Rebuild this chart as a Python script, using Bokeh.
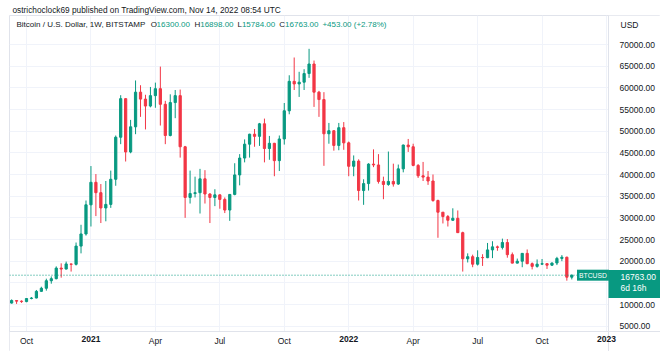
import pandas as pd
from bokeh.plotting import figure
from bokeh.models import (Range1d, FixedTicker, NumeralTickFormatter, CustomJSTickFormatter,
                          Label, ColumnDataSource, Span, DatetimeAxis, BoxAnnotation)
from bokeh.embed import file_html
from bokeh.resources import INLINE

# ---------------- data (weekly BTC/USD candles, Bitstamp) ----------------
opens = [10330, 10920, 10770, 10670, 11380, 11500, 13030, 13750, 15480, 15960,
         18400, 18180, 19360, 19270, 23480, 26280, 33000, 38200, 35800, 32280,
         33100, 38900, 48600, 57500, 45200, 51000, 59000, 57400, 55800, 58200,
         59800, 56200, 49000, 56600, 58200, 46400, 34700, 35600, 35800, 39000,
         35500, 34700, 35300, 34250, 31800, 35400, 39900, 43800, 47000, 49300,
         48800, 51700, 46000, 47200, 43200, 48200, 54700, 61500, 60900, 61300,
         63300, 65500, 59000, 57300, 49400, 50100, 46700, 50800, 47300, 41900,
         43100, 36300, 37900, 42400, 42200, 38400, 37700, 38400, 37800, 41300,
         46800, 46400, 42100, 39700, 39400, 38500, 34000, 31300, 30290, 29440,
         29900, 26580, 20550, 21030, 19300, 20850, 20800, 22600, 23300, 23170,
         24300, 21500, 19550, 19990, 21800, 19420, 18800, 19310, 19420, 19070,
         19570, 20630, 20910, 16300]
highs = [11180, 10990, 10950, 11490, 11730, 13350, 14100, 15960, 16480, 18800,
         19500, 19900, 19420, 24300, 28400, 34000, 41950, 40100, 37800, 38500,
         40900, 49000, 58300, 57600, 52600, 61700, 60600, 58400, 60200, 61200,
         64900, 57000, 58500, 59500, 59600, 46600, 40900, 39500, 41300, 41000,
         35700, 36600, 35400, 34700, 35500, 42600, 44700, 48100, 49400, 50500,
         51900, 52900, 48900, 47300, 49000, 56500, 62900, 67000, 63700, 64300,
         69000, 66300, 59300, 59000, 51900, 50200, 51900, 52100, 47600, 44400,
         43500, 38900, 42600, 45800, 44700, 39500, 45300, 42500, 42300, 46900,
         48200, 47100, 42400, 42900, 40800, 40000, 34200, 31300, 30650, 32200,
         31700, 26800, 21800, 21500, 22500, 21600, 24200, 24600, 23600, 25200,
         25100, 22000, 20600, 21850, 22700, 19700, 20400, 20500, 19500, 19700,
         21000, 21400, 21050, 16898]
lows = [10210, 10140, 10370, 10530, 11200, 11420, 12960, 13200, 14800, 15800,
        16200, 18100, 17600, 19000, 21800, 25900, 28000, 30400, 28800, 29200,
        32300, 37400, 47000, 43000, 44900, 49300, 53300, 50400, 55500, 55400,
        51300, 47000, 48800, 53000, 43900, 30000, 33300, 34700, 31000, 33300,
        28800, 32700, 32100, 31100, 29300, 35200, 37500, 42800, 43900, 46400,
        46600, 42800, 43400, 39600, 40800, 46900, 53900, 59500, 57900, 59500,
        62300, 55600, 53300, 42000, 47100, 45500, 45600, 45700, 39600, 39600,
        34000, 33000, 36300, 41700, 37900, 34300, 37400, 37200, 37600, 40500,
        45200, 41900, 39200, 38500, 37600, 33700, 25400, 28700, 28000, 29300,
        26500, 17600, 19700, 18600, 19000, 18900, 20700, 20700, 22400, 22700,
        20800, 19500, 19500, 18600, 19300, 18100, 18500, 19100, 18200, 18900,
        19100, 20000, 15500, 15784]
closes = [10920, 10770, 10670, 11380, 11500, 13030, 13750, 15480, 15960, 18400,
          18180, 19360, 19270, 23480, 26280, 33000, 38200, 35800, 32280, 33100,
          38900, 48600, 57500, 45200, 51000, 59000, 57400, 55800, 58200, 59800,
          56200, 49000, 56600, 58200, 46400, 34700, 35600, 35800, 39000, 35500,
          34700, 35300, 34250, 31800, 35400, 39900, 43800, 47000, 49300, 48800,
          51700, 46000, 47200, 43200, 48200, 54700, 61500, 60900, 61300, 63300,
          65500, 59000, 57300, 49400, 50100, 46700, 50800, 47300, 41900, 43100,
          36300, 37900, 42400, 42200, 38400, 37700, 38400, 37800, 41300, 46800,
          46400, 42100, 39700, 39400, 38500, 34000, 31300, 30290, 29440, 29900,
          26580, 20550, 21030, 19300, 20850, 20800, 22600, 23300, 23170, 24300,
          21500, 19550, 19990, 21800, 19420, 18800, 19310, 19420, 19070, 19570,
          20630, 20910, 16300, 16763]
weeks = pd.date_range("2020-09-14", periods=len(closes), freq="7D")

tick_dates = ["2020-10-05", "2021-01-04", "2021-04-05", "2021-07-05", "2021-10-04",
              "2022-01-03", "2022-04-04", "2022-07-04", "2022-10-03", "2023-01-02"]
tick_labels = ["Oct", "2021", "Apr", "Jul", "Oct", "2022", "Apr", "Jul", "Oct", "2023"]
price_ticks = list(range(5000, 70001, 5000))
last_price = 16763.0
time_left = "6d 16h"
header_text = "ostrichoclock69 published on TradingView.com, Nov 14, 2022 08:54 UTC"
symbol_text = "Bitcoin / U.S. Dollar, 1W, BITSTAMP"
ohlc_names = ["O", "H", "L", "C"]
ohlc_values = ["16300.00", "16898.00", "15784.00", "16763.00"]
change_text = "+453.00 (+2.78%)"
currency = "USD"
ticker_name = "BTCUSD"

# ---------------- styling / layout ----------------
GREEN = "#089981"
RED = "#f23645"
TEXT = "#131722"
GRID = "#f0f3fa"
BORDER = "#e0e3eb"
FONT = "Liberation Sans"

W, H = 660, 351
FL, FT = 9, 15            # frame starts here and runs to the right/bottom edges
SEP_X, SEP_Y = 608, 331   # price-scale and time-scale separators (pixels)

ref = pd.Timestamp("2020-10-05")
ref_x = 26
px_per_day = 580 / 819
def x_at(px):
    return ref + pd.Timedelta(days=(px - ref_x) / px_per_day)
px_per_usd = 260 / 60000
def y_at(py):
    return 70000 + (44 - py) / px_per_usd

x0, x1 = x_at(FL), x_at(W)
y_lo, y_hi = y_at(H), y_at(FT)
x_sep_ms = x_at(SEP_X).value / 1e6
y_sep = y_at(SEP_Y)

p = figure(width=W, height=H, x_axis_type="datetime", y_axis_location="right",
           x_range=Range1d(x0, x1), y_range=Range1d(y_lo, y_hi),
           toolbar_location=None, output_backend="svg",
           min_border_left=FL, min_border_right=0,
           min_border_top=FT, min_border_bottom=0)
p.background_fill_color = "white"
p.border_fill_color = "white"
p.outline_line_color = BORDER

# header as the plot title
p.title.text = header_text
p.title.align = "left"
p.title.offset = 3
p.title.standoff = 2
p.title.text_font = FONT
p.title.text_font_size = "8.3px"
p.title.text_font_style = "normal"
p.title.text_color = TEXT

p.xgrid.ticker = FixedTicker(ticks=[pd.Timestamp(d).value / 1e6 for d in tick_dates])
p.ygrid.ticker = FixedTicker(ticks=price_ticks)
p.xgrid.grid_line_color = GRID
p.ygrid.grid_line_color = GRID

# white price-scale and time-scale areas (cover grid lines there)
p.add_layout(BoxAnnotation(left=x_sep_ms, fill_color="white", fill_alpha=1,
                           line_color=None, level="underlay"))
p.add_layout(BoxAnnotation(top=y_sep, fill_color="white", fill_alpha=1,
                           line_color=None, level="underlay"))
p.add_layout(Span(location=x_sep_ms, dimension="height", line_color=BORDER, line_width=1,
                  level="underlay"))
p.add_layout(Span(location=y_sep, dimension="width", line_color=BORDER, line_width=1,
                  level="underlay"))

def style_axis(ax, standoff):
    ax.axis_line_color = None
    ax.major_tick_line_color = None
    ax.minor_tick_line_color = None
    ax.major_tick_out = 0
    ax.major_tick_in = 0
    ax.major_label_text_font = FONT
    ax.major_label_text_font_size = "8.5px"
    ax.major_label_text_color = TEXT
    ax.major_label_standoff = standoff

tick_ms = [pd.Timestamp(d).value / 1e6 for d in tick_dates]
month_labels = ["" if l.isdigit() else l for l in tick_labels]
lookup_js = """
    let best = 0, bd = Infinity;
    for (let i = 0; i < tvals.length; i++) {
        const d = Math.abs(tvals[i] - tick);
        if (d < bd) { bd = d; best = i; }
    }
    return tlabels[best];
"""
xax = p.xaxis[0]
xax.ticker = FixedTicker(ticks=tick_ms)
xax.formatter = CustomJSTickFormatter(args=dict(tvals=tick_ms, tlabels=month_labels), code=lookup_js)
xax.fixed_location = y_sep
style_axis(xax, 4)

year_ms = [t for t, l in zip(tick_ms, tick_labels) if l.isdigit()]
year_txt = [l for l in tick_labels if l.isdigit()]
yr_ax = DatetimeAxis(ticker=FixedTicker(ticks=year_ms), fixed_location=y_sep,
                     formatter=CustomJSTickFormatter(args=dict(tvals=year_ms, tlabels=year_txt),
                                                     code=lookup_js))
style_axis(yr_ax, 4)
yr_ax.major_label_text_font_style = "bold"
p.add_layout(yr_ax, "below")

yax = p.yaxis[0]
yax.ticker = FixedTicker(ticks=price_ticks)
yax.formatter = NumeralTickFormatter(format="0.00")
yax.fixed_location = x_sep_ms
style_axis(yax, 11)

# candles
colors = [GREEN if c >= o else RED for o, c in zip(opens, closes)]
src = ColumnDataSource(dict(
    x=weeks, o=opens, h=highs, l=lows, c=closes,
    top=[max(o, c) for o, c in zip(opens, closes)],
    bottom=[min(o, c) for o, c in zip(opens, closes)],
    color=colors))
week_ms = 7 * 24 * 3600 * 1000
p.segment(x0="x", y0="l", x1="x", y1="h", line_color="color", line_width=1, source=src)
p.vbar(x="x", top="top", bottom="bottom", width=week_ms * 0.45,
       fill_color="color", line_color="color", line_width=1, source=src)

# last price line (stops at the price scale)
p.segment(x0=[x0], y0=[last_price], x1=[x_at(SEP_X)], y1=[last_price],
          line_color=GREEN, line_dash="1 2", line_width=1)

def slabel(x_abs, y_abs, text, color=TEXT, size="8px", **kw):
    return Label(x=x_abs - FL, y=H - y_abs, x_units="screen", y_units="screen",
                 text=text, text_font=FONT, text_font_size=size, text_color=color,
                 text_baseline="middle", **kw)

p.add_layout(slabel(16, 24, symbol_text))
ox = [150.3, 193.9, 237.0, 278.8]
for xx, n, v in zip(ox, ohlc_names, ohlc_values):
    p.add_layout(slabel(xx, 24, n))
    p.add_layout(slabel(xx + (5.8 if n != "L" else 4.4), 24, v, color=GREEN))
p.add_layout(slabel(321.9, 24, change_text, color=GREEN))
p.add_layout(slabel(620, 24, currency, size="8.5px"))

# BTCUSD tag
p.add_layout(Label(x=576.5 - FL, y=last_price, x_units="screen", y_units="data",
                   text=ticker_name, text_font=FONT, text_font_size="6.8px", text_color="white",
                   text_baseline="middle", background_fill_color=GREEN, padding=2))

# price tag on the price scale
p.add_layout(BoxAnnotation(left=x_sep_ms, top=last_price + 5.2 / px_per_usd,
                           bottom=last_price - 22.8 / px_per_usd,
                           fill_color=GREEN, fill_alpha=1, line_color=None))
p.add_layout(Label(x=620 - FL, y=last_price, x_units="screen", y_units="data", y_offset=-1.5,
                   text=f"{last_price:.2f}", text_font=FONT, text_font_size="8.5px",
                   text_color="white", text_baseline="middle"))
p.add_layout(Label(x=620 - FL, y=last_price, x_units="screen", y_units="data", y_offset=-12.5,
                   text=time_left, text_font=FONT, text_font_size="8.5px",
                   text_color="white", text_baseline="middle"))

open("out.html", "w").write(file_html(p, INLINE))
